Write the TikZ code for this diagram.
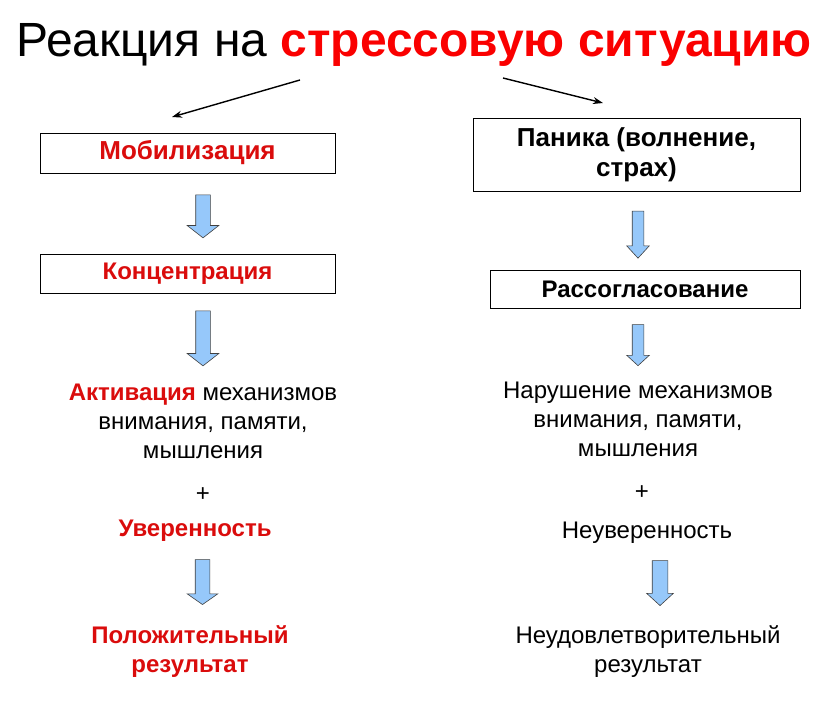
\documentclass[tikz,border=0pt]{standalone}
\usepackage{fontspec}
\setmainfont{Liberation Sans}
\usepackage{xcolor}
\usetikzlibrary{arrows.meta, shapes.arrows, positioning}
\definecolor{alarmred}{RGB}{218,12,12}
\definecolor{titlered}{RGB}{250,0,0}
\definecolor{arrowblue}{RGB}{150,200,250}

\begin{document}
\begin{tikzpicture}[x=1pt, y=-1pt,
    box/.style={rectangle, draw, line width=0.9pt, fill=white, align=center, inner sep=0pt, font=\fontsize{24}{30}\selectfont\bfseries},
    bigbox/.style={box, font=\fontsize{26}{30}\selectfont\bfseries},
    txt/.style={align=center, inner sep=0pt, font=\fontsize{24}{29}\selectfont},
    boldtxt/.style={txt, text=alarmred, font=\fontsize{24}{29}\selectfont\bfseries},
    blk/.style={single arrow, draw=black!75, fill=arrowblue, line width=0.6pt, single arrow head indent=0pt, shape border rotate=270},
    arrow/.style={-{Stealth[length=10pt, width=7pt]}, line width=1.4pt}
]
\useasboundingbox (0,0) rectangle (831,703);

% title
\node[inner sep=0pt, font=\fontsize{48}{58}\selectfont] (title) at (414,45) {Реакция на \textcolor{titlered}{\bfseries стрессовую ситуацию}};
\coordinate (lstart) at (300,80);
\coordinate (lend)   at (172,117);
\coordinate (rstart) at (503,78);
\coordinate (rend)   at (603,103);
\draw[arrow] (lstart) -- (lend);
\draw[arrow] (rstart) -- (rend);

% left branch
\node[bigbox, text=alarmred, minimum width=295, minimum height=40] (mob)  at (187.5,153)   {Мобилизация};
\node[box, text=alarmred, minimum width=295, minimum height=39] (konc) at (187.5,273.5) {Концентрация};
\node[txt] (akt) at (203,421) {\textcolor{alarmred}{\bfseries Активация} механизмов\\внимания, памяти,\\мышления};
\node[txt] (plusl) at (203,495) {+};
\node[boldtxt] (uver) at (195,531) {Уверенность};
\node[boldtxt] (pol) at (190,652) {Положительный\\результат};

\node[blk, inner sep=7pt, minimum height=43, single arrow head extend=8.5pt, single arrow tip angle=104] (a1) at (203,213.5) {};
\node[blk, inner sep=7pt, minimum height=55, single arrow head extend=8.5pt, single arrow tip angle=104] (a2) at (203,335.5) {};
\node[blk, inner sep=7pt, minimum height=45, single arrow head extend=8pt, single arrow tip angle=110] (a3) at (202.5,579.5) {};

% right branch
\node[bigbox, minimum width=327, minimum height=73] (pan) at (636.5,155) {Паника (волнение,\\страх)};
\node[box, minimum width=310, minimum height=38] (ras) at (645,289) {Рассогласование};
\node[txt] (nar) at (638,419) {Нарушение механизмов\\внимания, памяти,\\мышления};
\node[txt] (plusr) at (642,493) {+};
\node[txt] (neuv) at (647,533) {Неуверенность};
\node[txt] (neud) at (648,652) {Неудовлетворительный\\результат};

\node[blk, inner sep=5.5pt, minimum height=47, single arrow head extend=5.5pt, single arrow tip angle=85] (a4) at (638,231.5) {};
\node[blk, inner sep=5.5pt, minimum height=41, single arrow head extend=5.5pt, single arrow tip angle=95] (a5) at (638,342.5) {};
\node[blk, inner sep=7.5pt, minimum height=45, single arrow head extend=5.5pt, single arrow tip angle=95] (a6) at (660,579.5) {};
\end{tikzpicture}
\end{document}
